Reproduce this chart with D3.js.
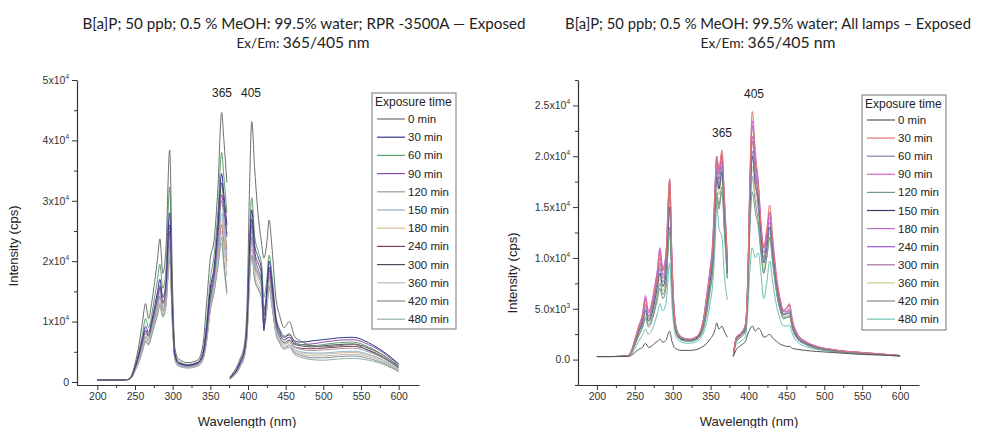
<!DOCTYPE html>
<html><head><meta charset="utf-8">
<script src="https://cdn.jsdelivr.net/npm/d3@7"></script>
<style>body{margin:0;background:#fff}svg{display:block}</style>
</head><body><svg id="c" width="982" height="428"></svg>
<script>
// ---------------- DATA ----------------
const exposureTimes = ["0 min","30 min","60 min","90 min","120 min","150 min","180 min","240 min","300 min","360 min","420 min","480 min"];
const leftColors  = ["#6e6e6e","#34358a","#5f9e6e","#8a4fa8","#9c9c9c","#8fb4cc","#d9bf96","#8a3f62","#4c4c5c","#b8bcc0","#8c8c8c","#8fb0a8"];
const rightColors = ["#555555","#e0786a","#7c84b4","#d462cc","#6f9c82","#3a3a66","#b86cc8","#9a58dc","#a86c98","#c8d088","#808a8a","#6cc0b4"];

const xTicks = [200,250,300,350,400,450,500,550,600];
const xMinorTicks = [225,275,325,375,425,475,525,575];
const leftYTicks = [0,10000,20000,30000,40000,50000];
const leftYMinorTicks = [5000,15000,25000,35000,45000];
const leftYTickLabels = [["0",""],["1x10","4"],["2x10","4"],["3x10","4"],["4x10","4"],["5x10","4"]];
const rightYTicks = [0,5000,10000,15000,20000,25000];
const rightYMinorTicks = [-2500,2500,7500,12500,17500,22500,27500];
const rightYTickLabels = [["0.0",""],["5.0x10","3"],["1.0x10","4"],["1.5x10","4"],["2.0x10","4"],["2.5x10","4"]];

// Left panel (RPR-3500A), intensities in thousands of cps
const leftExWavelengths = [200,220,240,245,250,255,260,264,268,272,276,280,283,287,291,296,300,303,308,320,333,340,345,350,355,360,365,368,372];
const leftExIntensityK = [
 [0.3,0.3,0.4,1.0,3.0,6.0,10.0,13.0,10.5,13.0,16.5,20.5,23.7,18.0,22.0,38.4,15.0,5.5,3.8,3.2,3.6,6.0,13.0,20.5,23.5,32.0,44.6,40.0,33.0],
 [0.3,0.3,0.4,0.8,2.4,4.6,7.2,9.2,8.2,10.0,12.5,15.0,17.0,14.0,16.5,28.0,11.5,4.6,3.2,2.8,3.2,4.6,9.0,15.5,19.0,26.0,34.5,31.0,26.0],
 [0.3,0.3,0.4,0.9,2.6,5.0,8.0,10.5,9.0,11.0,14.0,17.0,19.5,15.5,18.5,32.3,13.0,5.0,3.4,2.9,3.3,5.0,10.0,17.0,21.0,28.0,38.0,34.0,28.0],
 [0.3,0.3,0.4,0.8,2.3,4.3,6.8,8.6,7.8,9.5,11.8,14.0,16.0,13.2,15.5,26.0,10.8,4.4,3.1,2.7,3.1,4.3,8.0,14.0,17.5,24.0,31.0,28.5,24.0],
 [0.3,0.3,0.4,0.8,2.2,4.0,6.3,8.0,7.4,9.0,11.0,13.2,15.0,12.5,14.5,24.0,10.2,4.2,3.0,2.6,3.0,4.2,7.8,13.5,17.0,23.0,30.0,27.0,22.0],
 [0.3,0.3,0.4,0.7,2.1,3.8,6.0,7.6,7.0,8.6,10.5,12.6,14.3,12.0,14.0,23.0,9.8,4.0,2.9,2.5,2.9,4.0,7.4,13.0,16.5,22.0,28.0,25.5,21.0],
 [0.3,0.3,0.4,0.7,2.0,3.6,5.8,7.3,6.8,8.3,10.2,12.2,13.8,11.6,13.5,22.0,9.5,3.9,2.8,2.5,2.8,3.9,7.2,12.6,16.0,21.0,27.0,24.0,19.0],
 [0.3,0.3,0.4,0.7,2.1,3.7,5.9,7.4,6.9,8.5,10.4,12.5,14.2,11.8,13.8,22.5,9.7,4.0,2.9,2.6,2.9,4.0,7.6,13.4,16.8,21.5,26.0,23.5,20.0],
 [0.3,0.3,0.4,0.8,2.3,4.2,6.6,8.4,7.6,9.3,11.5,13.8,15.6,13.0,15.0,25.0,10.5,4.3,3.1,2.7,3.1,4.4,8.4,14.8,18.2,25.0,33.0,29.5,24.5],
 [0.3,0.3,0.4,0.7,1.9,3.4,5.5,7.0,6.5,8.0,9.8,11.7,13.2,11.2,13.0,21.0,9.2,3.8,2.7,2.4,2.7,3.8,7.0,12.3,15.5,20.0,25.0,22.0,17.5],
 [0.3,0.3,0.4,0.7,1.9,3.3,5.3,6.8,6.3,7.8,9.6,11.4,12.9,11.0,12.7,20.5,9.0,3.7,2.7,2.4,2.7,3.7,6.8,12.0,15.0,19.5,24.0,20.0,15.0],
 [0.3,0.3,0.4,0.7,1.8,3.2,5.1,6.6,6.1,7.6,9.3,11.1,12.5,10.7,12.4,20.0,8.8,3.6,2.6,2.3,2.6,3.6,6.6,11.8,14.8,19.0,23.0,19.0,14.5]
];
const leftEmWavelengths = [376,380,385,390,395,399,402,405,409,414,418,421,425,428,432,437,442,448,455,462,470,485,500,520,540,560,580,600];
const leftEmIntensityK = [
 [0.8,1.5,2.5,4.0,6.0,14.0,32.0,43.1,35.0,27.0,23.0,20.5,23.0,26.8,22.0,14.0,11.0,9.0,10.0,7.5,6.8,6.0,5.8,6.0,6.2,5.2,4.0,2.4],
 [0.6,1.2,2.0,3.4,5.2,10.5,22.0,28.5,22.5,20.5,18.5,8.5,15.5,20.0,16.5,10.5,8.5,7.4,7.8,6.8,6.6,6.8,7.0,7.3,7.4,6.5,5.0,3.0],
 [0.7,1.3,2.2,3.6,5.4,11.0,24.0,30.5,24.0,21.5,19.5,14.0,17.0,21.0,17.5,11.0,8.8,7.6,8.0,6.6,6.2,6.0,6.2,6.5,6.6,5.8,4.4,2.6],
 [0.6,1.1,1.9,3.2,5.0,10.0,20.5,26.0,21.0,18.5,17.0,11.0,14.5,18.5,15.0,9.8,8.0,7.0,7.4,6.4,6.2,6.3,6.6,6.9,7.0,6.2,4.8,2.8],
 [0.6,1.1,1.8,3.1,4.8,9.5,19.5,25.0,20.0,18.0,16.5,11.5,14.0,18.0,14.5,9.4,7.6,6.6,7.0,5.8,5.4,5.2,5.3,5.5,5.6,5.0,3.9,2.3],
 [0.5,1.0,1.7,3.0,4.6,9.0,18.5,24.0,19.0,17.5,16.0,11.0,13.5,17.5,14.0,9.0,7.3,6.3,6.7,5.4,5.0,4.8,4.8,5.0,5.1,4.6,3.6,2.1],
 [0.5,1.0,1.7,2.9,4.5,8.7,18.0,23.0,18.5,16.8,15.2,10.5,13.2,17.0,13.6,8.8,7.1,6.1,6.5,5.2,4.8,4.6,4.6,4.8,4.9,4.4,3.5,2.0],
 [0.6,1.1,1.8,3.0,4.7,9.2,18.8,24.0,19.2,17.5,16.0,10.0,13.8,17.5,14.2,9.2,7.5,6.5,6.9,5.8,5.6,5.5,5.6,5.8,5.9,5.3,4.1,2.4],
 [0.6,1.2,1.9,3.2,5.0,10.0,21.0,27.0,21.5,19.5,17.8,12.0,14.8,19.0,15.4,10.0,8.0,7.0,7.4,6.2,6.0,5.8,6.0,6.2,6.3,5.6,4.4,2.6],
 [0.5,0.9,1.6,2.8,4.3,8.4,17.2,22.0,17.8,16.0,14.6,10.0,12.5,16.0,12.8,8.4,6.8,5.8,6.2,5.0,4.6,4.3,4.3,4.5,4.6,4.2,3.3,1.9],
 [0.5,0.9,1.6,2.7,4.2,8.2,16.5,21.0,17.0,15.4,14.0,9.6,12.3,16.0,12.6,8.2,6.6,5.6,6.0,4.8,4.4,4.0,4.0,4.2,4.3,3.9,3.1,1.8],
 [0.5,0.9,1.5,2.6,4.1,8.0,16.4,21.0,16.8,15.2,13.8,9.2,11.8,15.5,12.2,8.0,6.4,5.4,5.7,4.5,4.1,3.7,3.6,3.8,3.9,3.6,2.9,1.7]
];

// Right panel (All lamps), intensities in thousands of cps
const rightExWavelengths = [200,220,240,245,250,255,260,264,268,272,276,280,283,287,291,296,299,302,306,312,322,332,340,345,349,353,356,358,361,365,368,372];
const rightExIntensityK = [
 [0.3,0.3,0.3,0.4,0.7,1.0,1.2,1.6,1.2,1.3,1.6,1.8,2.0,1.7,1.9,2.8,1.8,1.2,1.0,0.9,0.9,1.0,1.3,1.6,2.0,2.4,3.0,3.6,3.0,3.3,2.8,2.2],
 [0.3,0.3,0.35,0.8,1.9,3.1,4.2,5.8,4.6,5.2,6.8,8.6,10.5,8.7,10.1,17.8,9.8,4.7,2.8,2.2,2.0,2.3,3.7,6.2,8.5,11.5,17.0,20.0,18.8,20.6,16.5,10.2],
 [0.3,0.3,0.35,0.7,1.7,2.8,3.8,5.0,4.0,4.6,6.0,7.6,9.0,7.6,8.9,16.0,8.8,4.3,2.6,2.1,1.9,2.2,3.4,5.6,7.8,10.5,15.5,18.5,17.2,19.0,15.0,9.0],
 [0.3,0.3,0.35,0.8,2.0,3.3,4.5,6.3,4.8,5.5,7.2,9.0,11.0,9.0,10.5,17.5,10.0,4.8,2.8,2.2,2.0,2.3,3.8,6.5,8.8,12.0,17.5,19.8,18.5,20.3,16.0,10.0],
 [0.3,0.3,0.35,0.6,1.5,2.4,3.2,4.2,3.4,3.9,5.0,6.4,7.5,6.4,7.5,12.5,7.5,3.8,2.4,1.9,1.8,2.0,3.0,4.8,6.8,9.2,13.5,16.5,15.2,17.0,13.0,8.0],
 [0.3,0.3,0.35,0.7,1.6,2.7,3.6,4.8,3.8,4.4,5.7,7.3,8.5,7.2,8.4,15.0,8.3,4.1,2.5,2.0,1.9,2.1,3.3,5.4,7.5,10.2,15.0,18.0,16.8,18.5,14.5,8.5],
 [0.3,0.3,0.35,0.8,1.8,3.0,4.0,5.5,4.3,5.0,6.5,8.2,10.0,8.3,9.6,17.0,9.4,4.6,2.7,2.1,1.9,2.2,3.6,6.0,8.2,11.2,16.5,19.5,18.2,19.8,15.5,9.5],
 [0.3,0.3,0.35,0.8,1.9,3.2,4.3,6.0,4.6,5.3,6.9,8.8,10.8,8.8,10.2,17.6,9.9,4.8,2.8,2.2,2.0,2.3,3.7,6.3,8.6,11.8,17.2,20.0,18.6,20.0,15.8,9.8],
 [0.3,0.3,0.35,0.7,1.7,2.9,3.9,5.3,4.2,4.8,6.2,7.9,9.5,8.0,9.2,16.5,9.1,4.5,2.7,2.1,1.9,2.2,3.5,5.8,8.0,10.8,16.0,19.0,17.7,19.5,15.2,9.0],
 [0.3,0.3,0.35,0.6,1.6,2.6,3.4,4.5,3.6,4.1,5.3,6.8,8.0,6.8,8.0,14.5,8.0,4.0,2.5,2.0,1.8,2.1,3.1,5.1,7.2,9.8,14.5,17.5,16.2,18.0,14.0,8.5],
 [0.3,0.3,0.35,0.6,1.4,2.3,3.1,4.0,3.2,3.7,4.7,6.0,7.0,6.0,7.0,13.0,7.2,3.7,2.3,1.9,1.8,2.0,2.9,4.6,6.5,9.0,13.3,16.0,14.8,16.5,12.8,8.0],
 [0.3,0.3,0.35,0.5,1.1,1.8,2.4,3.0,2.5,2.8,3.6,4.6,5.5,4.8,5.5,9.5,5.5,3.0,2.0,1.7,1.6,1.8,2.5,3.8,5.4,7.6,11.5,15.3,13.0,12.0,8.5,5.9]
];
const rightEmWavelengths = [380,384,390,396,399,402,405,409,413,417,420,424,428,432,437,442,446,450,454,458,465,475,490,510,530,550,575,600];
const rightEmIntensityK = [
 [0.3,1.0,1.4,1.8,2.5,3.0,3.3,2.8,3.1,2.7,2.2,2.3,2.5,2.1,1.8,1.5,1.4,1.3,1.3,1.1,1.0,0.9,0.8,0.7,0.6,0.5,0.45,0.35],
 [0.4,2.2,2.6,3.5,8.2,18.5,24.4,20.5,17.0,12.8,11.0,12.8,15.2,12.0,8.3,5.9,4.9,5.1,5.5,3.9,2.5,1.8,1.3,1.0,0.8,0.7,0.55,0.4],
 [0.4,2.0,2.4,3.2,7.2,16.0,20.5,17.5,15.0,11.2,9.5,11.2,13.0,10.3,7.2,5.2,4.4,4.6,4.8,3.4,2.2,1.6,1.2,0.9,0.75,0.65,0.5,0.38],
 [0.4,2.2,2.6,3.5,8.0,18.0,23.5,20.0,17.5,13.0,11.0,12.5,14.5,11.5,8.0,5.8,4.8,5.0,5.4,3.8,2.4,1.8,1.3,1.0,0.8,0.7,0.55,0.4],
 [0.4,1.8,2.2,2.8,6.0,13.0,16.5,14.5,13.0,10.0,8.5,10.0,12.0,9.5,6.6,4.8,4.1,4.2,4.3,3.1,2.0,1.5,1.1,0.85,0.7,0.6,0.5,0.37],
 [0.4,2.0,2.4,3.1,7.0,15.5,20.0,17.2,15.5,11.5,9.5,11.0,13.0,10.3,7.1,5.2,4.4,4.5,4.6,3.3,2.1,1.6,1.2,0.9,0.75,0.65,0.5,0.38],
 [0.4,2.1,2.5,3.3,7.6,17.2,22.0,18.8,16.5,12.2,10.5,12.0,14.0,11.0,7.7,5.6,4.7,4.8,5.0,3.6,2.3,1.7,1.25,0.95,0.8,0.68,0.52,0.4],
 [0.4,2.2,2.6,3.4,7.9,17.8,23.0,19.6,17.0,12.6,11.0,12.4,14.5,11.4,7.9,5.7,4.8,5.0,5.3,3.7,2.4,1.8,1.3,1.0,0.8,0.7,0.55,0.4],
 [0.4,2.1,2.5,3.2,7.4,16.6,21.5,18.3,16.0,11.8,10.0,11.6,13.5,10.7,7.4,5.4,4.5,4.7,4.8,3.5,2.2,1.7,1.2,0.95,0.78,0.66,0.52,0.38],
 [0.4,1.9,2.3,3.0,6.8,14.8,19.0,16.2,14.5,11.0,9.0,10.6,12.5,9.9,6.9,5.0,4.2,4.3,4.4,3.2,2.1,1.55,1.15,0.88,0.72,0.62,0.5,0.37],
 [0.4,1.8,2.2,2.8,6.4,14.0,18.0,15.5,13.5,10.3,8.5,10.0,12.0,9.5,6.6,4.8,4.0,4.1,4.2,3.0,2.0,1.5,1.1,0.85,0.7,0.6,0.48,0.36],
 [0.4,1.5,1.8,2.3,4.8,9.0,11.0,10.0,10.5,8.0,6.0,7.5,9.7,7.6,5.3,3.9,3.3,3.3,3.4,2.5,1.7,1.3,1.0,0.8,0.65,0.55,0.45,0.34]
];

// ---------------- DRAW ----------------
const svg = d3.select("#c");
const AX = "Liberation Sans, Arial, sans-serif";
const TF = "Lato, 'Open Sans', sans-serif";

function drawTitle(cx1, cx2, line1, fs1, len2) {
  svg.append("text").attr("x", cx1).attr("y", 29).attr("text-anchor","middle")
    .attr("font-family", TF).attr("font-size", fs1).attr("fill","#222").text(line1);
  const t = svg.append("text").attr("x", cx2).attr("y", 48).attr("text-anchor","middle")
    .attr("font-family", TF).attr("fill","#222")
    .attr("textLength", len2).attr("lengthAdjust","spacingAndGlyphs");
  t.append("tspan").attr("font-size", 13.5).text("Ex/Em:  ");
  t.append("tspan").attr("font-size", 15.5).text("365/405 nm");
}

function panel(cfg) {
  const g = svg.append("g");
  const x = d3.scaleLinear().domain(cfg.xDomain).range(cfg.xRange);
  const y = d3.scaleLinear().domain(cfg.yDomain).range(cfg.yRange);

  const line = d3.line().x(d => x(d[0])).y(d => y(d[1] * 1000)).curve(d3.curveMonotoneX);
  const lines = g.append("g").attr("fill","none").attr("stroke-width",1).attr("stroke-linejoin","round");
  for (let i = cfg.ex.length - 1; i >= 0; i--) {
    [[cfg.exW, cfg.ex[i]], [cfg.emW, cfg.em[i]]].forEach(([w, v]) => {
      lines.append("path").datum(w.map((wl, k) => [wl, v[k]]))
        .attr("stroke", cfg.colors[i]).attr("d", line);
    });
  }

  const xa = g.append("g").attr("transform", `translate(0,${cfg.yRange[0]})`);
  xa.call(d3.axisBottom(x).tickValues(xTicks).tickSize(5).tickSizeOuter(0).tickPadding(3));
  const xm = g.append("g").attr("transform", `translate(0,${cfg.yRange[0]})`);
  xm.call(d3.axisBottom(x).tickValues(xMinorTicks).tickSize(3).tickFormat(() => "").tickSizeOuter(0));
  xm.select(".domain").remove();
  const ya = g.append("g").attr("transform", `translate(${cfg.xRange[0]},0)`);
  ya.call(d3.axisLeft(y).tickValues(cfg.yTicks).tickSize(5).tickSizeOuter(0).tickPadding(3).tickFormat(() => ""));
  ya.selectAll(".tick text").each(function(d, i) {
    const t = d3.select(this);
    const lab = cfg.yLabels[i];
    t.append("tspan").text(lab[0]);
    if (lab[1]) t.append("tspan").attr("font-size", 6.5).attr("dy", -5).text(lab[1]);
  });
  const ym = g.append("g").attr("transform", `translate(${cfg.xRange[0]},0)`);
  ym.call(d3.axisLeft(y).tickValues(cfg.yMinor).tickSize(3).tickFormat(() => "").tickSizeOuter(0));
  ym.select(".domain").remove();

  g.selectAll(".domain").attr("stroke","#333").attr("stroke-width",1.2);
  g.selectAll(".tick line").attr("stroke","#333").attr("stroke-width",1);
  g.selectAll(".tick text").attr("font-family", AX).attr("font-size", 10.5).attr("fill","#333");

  g.append("text").attr("x", cfg.xLabelPos[0]).attr("y", cfg.xLabelPos[1]).attr("text-anchor","middle")
    .attr("font-family", AX).attr("font-size", 13).attr("fill","#222").text("Wavelength (nm)");
  g.append("text").attr("transform", `translate(${cfg.yLabelPos[0]},${cfg.yLabelPos[1]}) rotate(-90)`)
    .attr("text-anchor","middle").attr("font-family", AX).attr("font-size", 13).attr("fill","#222").text("Intensity (cps)");

  cfg.peaks.forEach(p => {
    g.append("text").attr("x", p[1]).attr("y", p[2]).attr("text-anchor","middle")
      .attr("font-family", AX).attr("font-size", 12).attr("fill","#222").text(p[0]);
  });

  const L = cfg.legend;
  const lg = g.append("g");
  lg.append("rect").attr("x", L.x).attr("y", L.y).attr("width", L.w).attr("height", L.h)
    .attr("fill","#fff").attr("stroke","#777").attr("stroke-width",1);
  lg.append("text").attr("x", L.x + 3).attr("y", L.y + 13).attr("font-family", AX).attr("font-size", 12)
    .attr("fill","#222").text("Exposure time");
  exposureTimes.forEach((name, i) => {
    const cy = L.row0 + i * L.dy;
    lg.append("line").attr("x1", L.x + 5).attr("x2", L.x + 33).attr("y1", cy).attr("y2", cy)
      .attr("stroke", cfg.colors[i]).attr("stroke-width", 1.2);
    lg.append("text").attr("x", L.x + 36).attr("y", cy + 4).attr("font-family", AX).attr("font-size", 11.5)
      .attr("fill","#222").text(name);
  });
}

drawTitle(304, 303, "B[a]P; 50 ppb; 0.5 % MeOH: 99.5% water; RPR -3500A \u2014 Exposed", 15.2, 133);
drawTitle(768, 768, "B[a]P; 50 ppb; 0.5 % MeOH: 99.5% water; All lamps \u2013 Exposed", 14.8, 135);

panel({
  xDomain: [173, 627], xRange: [77, 419],
  yDomain: [-500, 50000], yRange: [385, 80],
  yTicks: leftYTicks, yMinor: leftYMinorTicks, yLabels: leftYTickLabels,
  exW: leftExWavelengths, ex: leftExIntensityK, emW: leftEmWavelengths, em: leftEmIntensityK,
  colors: leftColors,
  xLabelPos: [247, 426], yLabelPos: [18, 246],
  peaks: [["365", 222, 97], ["405", 251, 97]],
  legend: {x: 372, y: 93, w: 84, h: 236, row0: 119, dy: 18.2}
});

panel({
  xDomain: [175, 625], xRange: [578, 919],
  yDomain: [-2500, 27500], yRange: [385, 80],
  yTicks: rightYTicks, yMinor: rightYMinorTicks, yLabels: rightYTickLabels,
  exW: rightExWavelengths, ex: rightExIntensityK, emW: rightEmWavelengths, em: rightEmIntensityK,
  colors: rightColors,
  xLabelPos: [749, 426], yLabelPos: [517, 273],
  peaks: [["405", 754, 98], ["365", 722, 137]],
  legend: {x: 862, y: 95, w: 84, h: 235, row0: 120, dy: 18.1}
});
</script></body></html>
